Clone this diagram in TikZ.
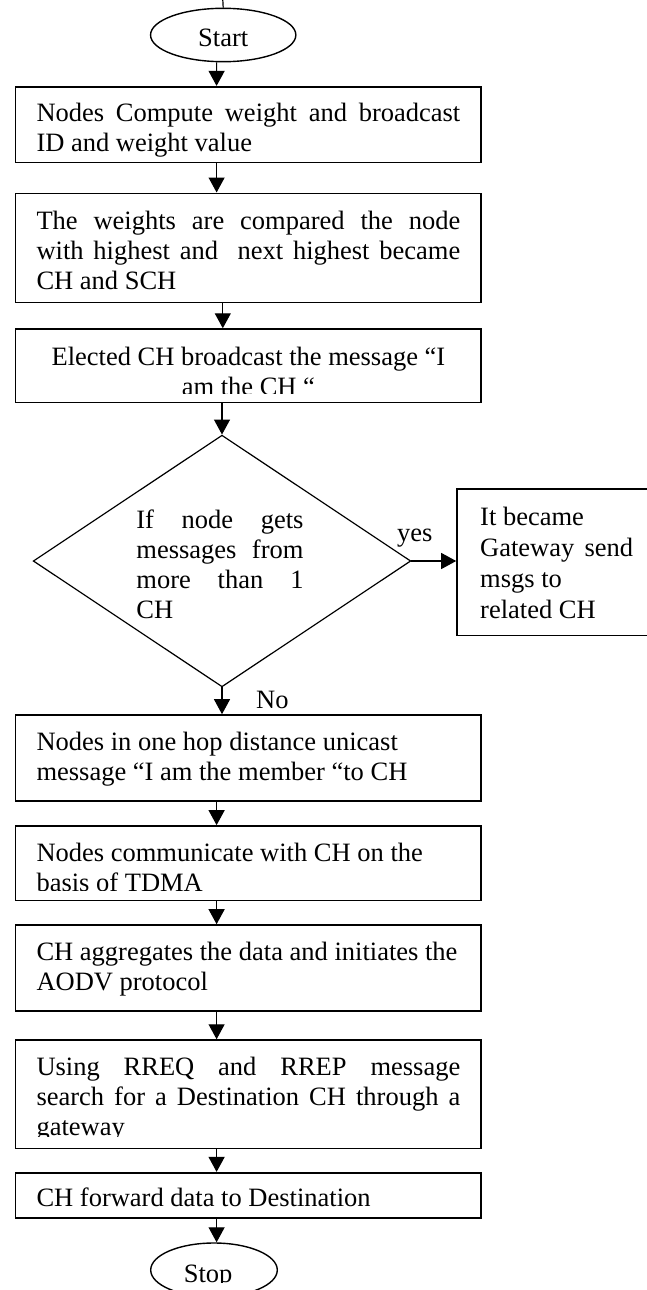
\documentclass[tikz,border=0pt]{standalone}
\usepackage{fontspec}
\setmainfont{Liberation Serif}
\usetikzlibrary{arrows.meta,shapes.geometric}
\newcommand{\jl}[1]{\makebox[\linewidth][s]{#1}}
\newcommand{\fs}{\fontsize{26.5}{30}\selectfont}
\newcommand{\tbx}[2]{\parbox[t]{#1}{\fs #2}}
\begin{document}
\begin{tikzpicture}[x=1pt,y=-1pt,
  box/.style={draw, line width=1.6pt, rectangle, minimum width=465.4pt, inner sep=0pt},
  term/.style={draw, line width=1.4pt, ellipse, inner sep=0pt},
  txt/.style={anchor=base west, inner sep=0pt, font=\fs},
  conn/.style={line width=1.2pt, -{Triangle[length=15pt,width=16pt]}},
]
\useasboundingbox (0,0) rectangle (647,1290);
\clip (0,0) rectangle (647,1290);

% terminals
\node[term, minimum width=145.3pt, minimum height=53.4pt, text height=23.5pt, text depth=0pt, font=\fs] (start) at (223.2,35) {Start};
\coordinate (top) at (222.8,0);
\node[term, minimum width=126.6pt, minimum height=54pt] (stop) at (214,1270) {};

% boxes
\node[box, minimum height=75.6pt] (b1) at (248,124.5) {};
\node[box, minimum height=109pt] (b2) at (248,247.8) {};
\node[box, minimum height=73.3pt] (b3) at (248,365.7) {};
\node[draw, diamond, line width=1.2pt, minimum width=377.6pt, minimum height=251.7pt, inner sep=0pt] (dec) at (222,561) {};
\node[draw, line width=1.6pt, minimum width=195pt, minimum height=146.7pt, inner sep=0pt] (side) at (554.5,562.3) {};
\node[box, minimum height=86pt] (b4) at (248,758) {};
\node[box, minimum height=74.7pt] (b5) at (248,863.3) {};
\node[box, minimum height=86pt] (b6) at (248,968) {};
\node[box, minimum height=108.3pt] (b7) at (248,1094.2) {};
\node[box, minimum height=45pt] (b8) at (248,1195.2) {};

% texts
\node[txt] (t1) at (36.3,121.8) {\tbx{423.8pt}{\jl{Nodes Compute weight and broadcast}\\ID and weight value}};
\node[txt] (t2) at (36.3,229.5) {\tbx{423.8pt}{\jl{The weights are compared the node}\\\jl{with highest and\ \ next highest became}\\CH and SCH}};
\begin{scope}
\clip (15,329) rectangle (481,393.3);
\node[txt] (t3) at (36.3,365.7) {\tbx{423.8pt}{\centering Elected CH broadcast the message “I\\am the CH “}};
\end{scope}
\node[txt] (tdec) at (136.2,528.3) {\tbx{167.1pt}{\jl{If node gets}\\\jl{messages from}\\\jl{more than 1}\\CH}};
\node[txt] (tside) at (480,525) {\parbox[t]{160pt}{\fontsize{26.5}{31}\selectfont It became\\\makebox[153pt][s]{Gateway send}\\msgs to\\related CH}};
\node[txt] (yes) at (397,541.7) {yes};
\node[txt] (no) at (256,708) {No};
\node[txt] (t4) at (36.3,750) {\tbx{423.8pt}{Nodes in one hop distance unicast\\message “I am the member “to CH}};
\begin{scope}
\clip (15,826) rectangle (481,890);
\node[txt] (t5) at (36.3,861.7) {\tbx{423.8pt}{Nodes communicate with CH on the\\basis of TDMA}};
\end{scope}
\node[txt] (t6) at (36.3,960) {\tbx{423.8pt}{CH aggregates the data and initiates the\\AODV protocol}};
\begin{scope}
\clip (15,1040) rectangle (481,1136);
\node[txt] (t7) at (36.3,1075) {\tbx{423.8pt}{\jl{Using RREQ and RREP message}\\\jl{search for a Destination CH through a}\\gateway}};
\end{scope}
\node[txt] (t8) at (36.3,1206.7) {\tbx{423.8pt}{CH forward data to Destination}};
\begin{scope}
\clip (150,1243) rectangle (280,1282);
\node[txt] (tstop) at (183.6,1282.5) {Stop};
\end{scope}

% connectors
\draw[line width=1.2pt] (top) -- (start.north);
\draw[conn] ([xshift=-6.6pt]start.south) -- ([xshift=-31.4pt]b1.north);
\draw[conn] ([xshift=-31.4pt]b1.south) -- ([xshift=-31.4pt]b2.north);
\draw[conn] ([xshift=-25.2pt]b2.south) -- ([xshift=-25.2pt]b3.north);
\draw[conn] (dec.north |- b3.south) -- (dec.north);
\draw[conn] (dec.east) -- (dec.east -| side.west);
\draw[conn] (dec.south) -- (dec.south |- b4.north);
\draw[conn] ([xshift=-31.4pt]b4.south) -- ([xshift=-31.4pt]b5.north);
\draw[conn] ([xshift=-31.4pt]b5.south) -- ([xshift=-31.4pt]b6.north);
\draw[conn] ([xshift=-31.4pt]b6.south) -- ([xshift=-31.4pt]b7.north);
\draw[conn] ([xshift=-31.4pt]b7.south) -- ([xshift=-31.4pt]b8.north);
\draw[conn] ([xshift=-31.4pt]b8.south) -- ([xshift=-31.4pt]b8.south |- stop.north);
\end{tikzpicture}
\end{document}
